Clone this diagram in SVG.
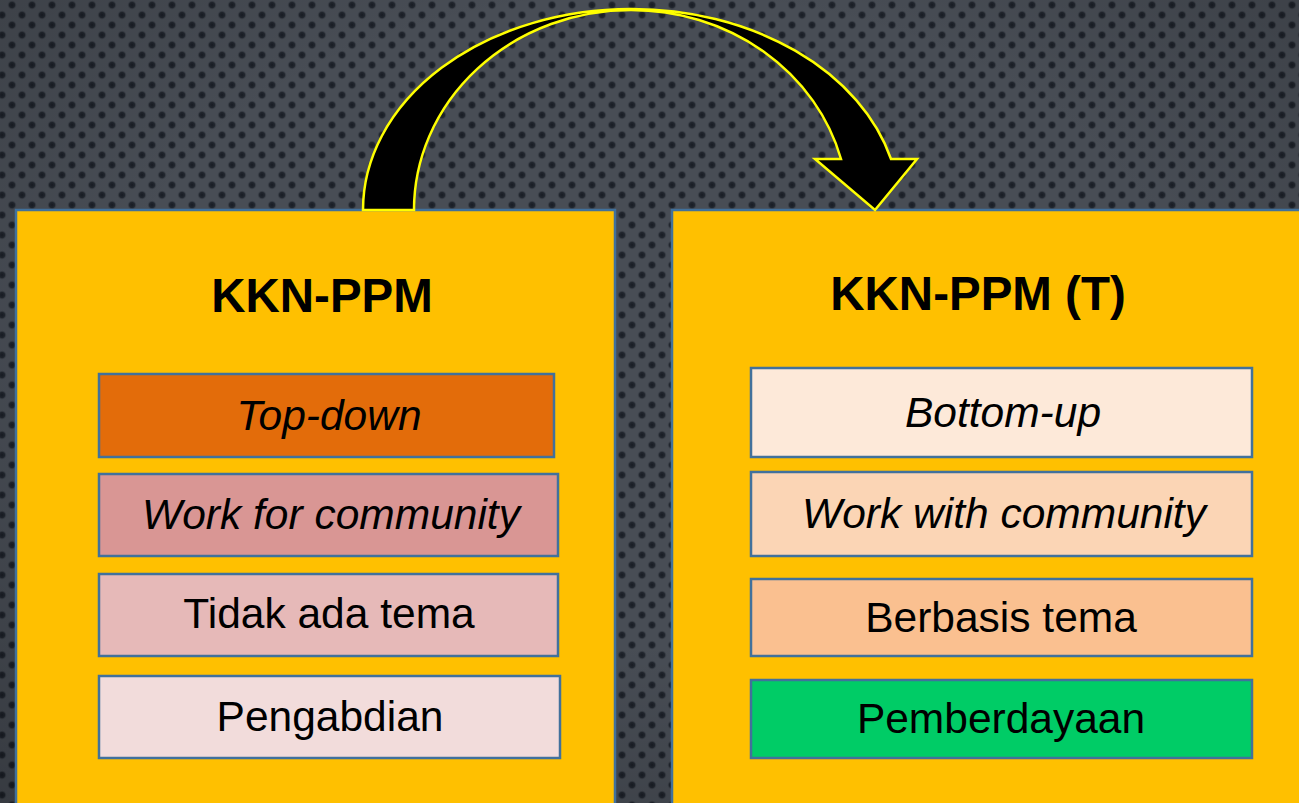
<svg xmlns="http://www.w3.org/2000/svg" width="1299" height="803" viewBox="0 0 1299 803">
<defs>
<radialGradient id="dotg">
<stop offset="0" stop-color="#181c24"/>
<stop offset="0.55" stop-color="#22272f"/>
<stop offset="1" stop-color="#474c54" stop-opacity="0"/>
</radialGradient>
<pattern id="dots" x="0" y="0" width="20" height="20" patternUnits="userSpaceOnUse">
<rect width="20" height="20" fill="#484d55"/>
<circle cx="12" cy="5" r="5" fill="url(#dotg)"/>
<circle cx="2" cy="15" r="5" fill="url(#dotg)"/>
<circle cx="22" cy="15" r="5" fill="url(#dotg)"/>
</pattern>
<radialGradient id="vig" cx="0.5" cy="0.4" r="0.8">
<stop offset="0.5" stop-color="#000" stop-opacity="0"/>
<stop offset="1" stop-color="#000" stop-opacity="0.25"/>
</radialGradient>
</defs>
<style>
.panel{fill:#ffc000;stroke:#41719c;stroke-width:2.5}
.item{stroke:#41719c;stroke-width:2.5}
.title{font-family:"Liberation Sans",Arial,sans-serif;font-weight:bold;font-size:47.5px;fill:#000;text-anchor:middle}
.lbl{font-family:"Liberation Sans",Arial,sans-serif;font-size:42.5px;fill:#000;text-anchor:middle}
.it{font-style:italic}
</style>
<rect width="1299" height="803" fill="url(#dots)"/>
<rect width="1299" height="803" fill="url(#vig)"/>

<g id="left-panel">
<rect class="panel" x="16" y="210" width="599" height="610"/>
<text class="title" x="322" y="312">KKN-PPM</text>
</g>
<g id="right-panel">
<rect class="panel" x="672" y="210" width="650" height="610"/>
<text class="title" x="978" y="310">KKN-PPM (T)</text>
</g>

<g id="top-down">
<rect class="item" x="99" y="374" width="455" height="83" fill="#e36c0a"/>
<text class="lbl it" x="329" y="430">Top-down</text>
</g>
<g id="work-for-community">
<rect class="item" x="99" y="474" width="459" height="82" fill="#d99694"/>
<text class="lbl it" x="331" y="529">Work for community</text>
</g>
<g id="tidak-ada-tema">
<rect class="item" x="99" y="574" width="459" height="82" fill="#e6b9b8"/>
<text class="lbl" x="329" y="628">Tidak ada tema</text>
</g>
<g id="pengabdian">
<rect class="item" x="99" y="676" width="461" height="82" fill="#f2dcdb"/>
<text class="lbl" x="330" y="731">Pengabdian</text>
</g>

<g id="bottom-up">
<rect class="item" x="751" y="368" width="501" height="89" fill="#fde9d9"/>
<text class="lbl it" x="1003" y="427">Bottom-up</text>
</g>
<g id="work-with-community">
<rect class="item" x="751" y="472" width="501" height="84" fill="#fbd5b5"/>
<text class="lbl it" x="1004" y="528">Work with community</text>
</g>
<g id="berbasis-tema">
<rect class="item" x="751" y="579" width="501" height="77" fill="#fac090"/>
<text class="lbl" x="1001" y="632">Berbasis tema</text>
</g>
<g id="pemberdayaan">
<rect class="item" x="751" y="680" width="501" height="78" fill="#00cc66"/>
<text class="lbl" x="1001" y="733">Pemberdayaan</text>
</g>

<g id="connectors">
<path d="M363,210 A268,201 0 0 1 631,9 A268,201 0 0 1 891,159 L917,159 L875,210 L815,159 L841,159 A217,200 0 0 0 631,10 A217,200 0 0 0 414,210 Z" fill="#000" stroke="#ffff00" stroke-width="2.5" stroke-linejoin="miter"/>
</g>
</svg>
